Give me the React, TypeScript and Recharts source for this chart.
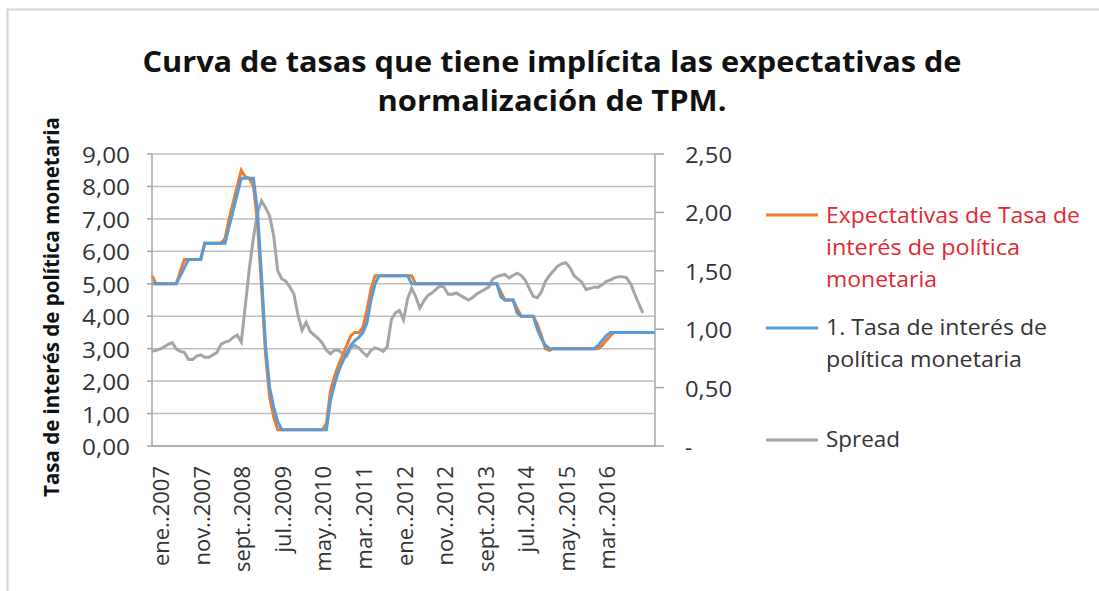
import React from "react";
import { LineChart, Line, XAxis, YAxis, CartesianGrid } from "recharts";

const MONTHS = ["ene", "feb", "mar", "abr", "may", "jun", "jul", "ago", "sept", "oct", "nov", "dic"];

// monthly categories, nov..2006 -> mar..2017
const categories: string[] = [];
for (let i = 0; i < 125; i++) {
  const m = (10 + i) % 12;
  const y = 2006 + Math.floor((10 + i) / 12);
  categories.push(`${MONTHS[m]}..${y}`);
}

const tickLabels = [
  "ene..2007", "nov..2007", "sept..2008", "jul..2009", "may..2010", "mar..2011",
  "ene..2012", "nov..2012", "sept..2013", "jul..2014", "may..2015", "mar..2016",
];

const expectativas = [
  5.25, 5.0, 5.0, 5.0, 5.0, 5.0, 5.0,
  5.4, 5.75, 5.75, 5.75, 5.75, 5.75,
  6.25, 6.25, 6.25, 6.25, 6.25, 6.4,
  7.0, 7.5, 8.0, 8.5, 8.3, 8.25, 8.0,
  6.9, 4.9, 2.8, 1.5, 0.9, 0.5,
  0.5, 0.5, 0.5, 0.5, 0.5, 0.5, 0.5, 0.5, 0.5, 0.5, 0.5, 0.7,
  1.7, 2.15, 2.5, 2.8, 3.1, 3.4, 3.5, 3.5, 3.65, 4.2, 4.85, 5.25,
  5.25, 5.25, 5.25, 5.25, 5.25, 5.25, 5.25, 5.25, 5.25,
  5.0, 5.0, 5.0, 5.0, 5.0, 5.0, 5.0, 5.0, 5.0, 5.0, 5.0, 5.0, 5.0, 5.0, 5.0, 5.0, 5.0, 5.0, 5.0, 5.0, 5.0,
  4.75, 4.5, 4.5, 4.5, 4.25, 4.0, 4.0, 4.0, 4.0, 3.75, 3.4, 3.0, 2.95,
  3.0, 3.0, 3.0, 3.0, 3.0, 3.0, 3.0, 3.0, 3.0, 3.0, 3.0, 3.0,
  3.1, 3.25, 3.4,
  3.5, 3.5, 3.5, 3.5, 3.5, 3.5, 3.5, 3.5, 3.5, 3.5, 3.5,
];

const tpm = [
  5.0, 5.0, 5.0, 5.0, 5.0, 5.0, 5.0,
  5.25, 5.5, 5.75, 5.75, 5.75, 5.75,
  6.25, 6.25, 6.25, 6.25, 6.25, 6.25,
  6.75, 7.25, 7.75, 8.25, 8.25, 8.25, 8.25,
  7.25, 5.25, 3.1, 1.8, 1.2, 0.75,
  0.5, 0.5, 0.5, 0.5, 0.5, 0.5, 0.5, 0.5, 0.5, 0.5, 0.5, 0.5,
  1.4, 1.9, 2.3, 2.6, 2.85, 3.1, 3.25, 3.35, 3.5, 3.8, 4.5, 5.0,
  5.25, 5.25, 5.25, 5.25, 5.25, 5.25, 5.25, 5.25,
  5.0, 5.0, 5.0, 5.0, 5.0, 5.0, 5.0, 5.0, 5.0, 5.0, 5.0, 5.0, 5.0, 5.0, 5.0, 5.0, 5.0, 5.0, 5.0, 5.0, 5.0, 5.0,
  4.6, 4.5, 4.5, 4.5, 4.1, 4.0, 4.0, 4.0, 4.0, 3.6, 3.3, 3.1,
  3.0, 3.0, 3.0, 3.0, 3.0, 3.0, 3.0, 3.0, 3.0, 3.0, 3.0, 3.0,
  3.1, 3.25, 3.4,
  3.5, 3.5, 3.5, 3.5, 3.5, 3.5, 3.5, 3.5, 3.5, 3.5, 3.5, 3.5,
];

const spread = [
  0.81, 0.82, 0.83, 0.85, 0.87, 0.885, 0.83, 0.81, 0.8, 0.74,
  0.74, 0.77, 0.78, 0.76, 0.76, 0.78, 0.8, 0.87, 0.89, 0.9,
  0.93, 0.95, 0.89, 1.2, 1.52, 1.78, 2.0, 2.1, 2.04, 1.97,
  1.8, 1.5, 1.43, 1.41, 1.36, 1.3, 1.12, 0.99, 1.06, 0.98,
  0.95, 0.92, 0.88, 0.82, 0.79, 0.82, 0.82, 0.79, 0.77, 0.84,
  0.86, 0.84, 0.8, 0.77, 0.82, 0.84, 0.83, 0.81, 0.85, 1.08,
  1.14, 1.16, 1.08, 1.26, 1.35, 1.28, 1.18, 1.24, 1.29, 1.31,
  1.34, 1.37, 1.36, 1.3, 1.3, 1.31, 1.29, 1.27, 1.25, 1.27,
  1.3, 1.32, 1.34, 1.36, 1.43, 1.45, 1.46, 1.47, 1.44, 1.46,
  1.48, 1.46, 1.42, 1.35, 1.28, 1.27, 1.32, 1.41, 1.46, 1.5,
  1.54, 1.56, 1.57, 1.53, 1.46, 1.43, 1.4, 1.34, 1.35, 1.36,
  1.36, 1.38, 1.41, 1.42, 1.44, 1.45, 1.45, 1.44, 1.39, 1.3,
  1.22, 1.14, null, null, null,
];

const leftTicks = [0, 1, 2, 3, 4, 5, 6, 7, 8, 9];
const rightTicks = [0, 0.5, 1, 1.5, 2, 2.5];

const data = categories.map((m, i) => ({
  m,
  exp: expectativas[i],
  tpm: tpm[i],
  spread: spread[i],
}));

const FONT = "'Open Sans', sans-serif";
const TEXT = "#333333";

const fmt = (v: number) => v.toFixed(2).replace(".", ",");

function LeftTick({ x, y, payload }: any) {
  return (
    <text x={x} y={y} textAnchor="end" dominantBaseline="central" fontFamily={FONT}
      fontSize={22} fill={TEXT} textLength={48} lengthAdjust="spacingAndGlyphs">
      {fmt(payload.value)}
    </text>
  );
}

function RightTick({ x, y, payload }: any) {
  const label = payload.value === 0 ? "-" : fmt(payload.value);
  return (
    <text x={x} y={y} textAnchor="start" dominantBaseline="central" fontFamily={FONT}
      fontSize={22} fill={TEXT} {...(label.length > 1 ? { textLength: 47, lengthAdjust: "spacingAndGlyphs" } : {})}>
      {label}
    </text>
  );
}

function BottomTick({ x, y, payload }: any) {
  return (
    <text x={x} y={y} transform={`rotate(-90, ${x}, ${y})`} textAnchor="end"
      dominantBaseline="central" fontFamily={FONT} fontSize={22} fill={TEXT}>
      {payload.value}
    </text>
  );
}

const legendRows = [
  { color: "#ed7d31", y: 215, textColor: "#e5262f", lines: [
    { t: "Expectativas de Tasa de", w: 254, b: 223 },
    { t: "interés de política", w: 194, b: 255 },
    { t: "monetaria", w: 111, b: 287 },
  ] },
  { color: "#5b9bd5", y: 328, textColor: TEXT, lines: [
    { t: "1. Tasa de interés de", w: 221, b: 335 },
    { t: "política monetaria", w: 196, b: 367 },
  ] },
  { color: "#a5a5a5", y: 440, textColor: TEXT, lines: [
    { t: "Spread", w: 74, b: 447 },
  ] },
];

export default function App() {
  return (
    <div style={{ position: "relative", width: 1099, height: 591, background: "#fff", overflow: "hidden" }}>
      <style>{`body{margin:0}`}</style>
      <LineChart width={1099} height={591} data={data}
        margin={{ top: 154, right: 374, bottom: 25, left: 92 }}>
        <CartesianGrid yAxisId="left" vertical={false} stroke="#bfbfbf" strokeWidth={1.5} />
        <XAxis dataKey="m" ticks={tickLabels} interval={0} height={120} tickLine={false}
          tickSize={0} tickMargin={20} tick={<BottomTick />} stroke="#a6a6a6" strokeWidth={1.5} />
        <YAxis yAxisId="left" domain={[0, 9]} ticks={leftTicks} width={60} tickSize={5}
          tickMargin={17} tick={<LeftTick />} stroke="#a6a6a6" strokeWidth={1.5} />
        <YAxis yAxisId="right" orientation="right" domain={[0, 2.5]} ticks={rightTicks}
          width={70} tickSize={9} tickMargin={21} tick={<RightTick />} stroke="#a6a6a6" strokeWidth={1.5} />
        <Line yAxisId="right" dataKey="spread" stroke="#a5a5a5" strokeWidth={3} dot={false}
          isAnimationActive={false} />
        <Line yAxisId="left" dataKey="exp" stroke="#ed7d31" strokeWidth={3} dot={false}
          isAnimationActive={false} />
        <Line yAxisId="left" dataKey="tpm" stroke="#5b9bd5" strokeWidth={3} dot={false}
          isAnimationActive={false} />
      </LineChart>
      <svg width={1099} height={591} style={{ position: "absolute", left: 0, top: 0, pointerEvents: "none" }}>
        <path d="M7.5 591 V9.5 H1099" fill="none" stroke="#d4d4d4" strokeWidth={2} />
        <text x={552} y={72} textAnchor="middle" fontFamily={FONT} fontWeight={700} fontSize={29}
          fill="#111" textLength={819} lengthAdjust="spacingAndGlyphs">
          Curva de tasas que tiene implícita las expectativas de
        </text>
        <text x={552} y={111} textAnchor="middle" fontFamily={FONT} fontWeight={700} fontSize={29}
          fill="#111" textLength={349} lengthAdjust="spacingAndGlyphs">
          normalización de TPM.
        </text>
        <text x={51} y={307} transform="rotate(-90, 51, 307)" textAnchor="middle"
          dominantBaseline="central" fontFamily={FONT} fontWeight={700} fontSize={21} fill="#111"
          textLength={380} lengthAdjust="spacingAndGlyphs">
          Tasa de interés de política monetaria
        </text>
        {legendRows.map((r) => (
          <g key={r.color}>
            <line x1={766} x2={818} y1={r.y} y2={r.y} stroke={r.color} strokeWidth={3} />
            {r.lines.map((l) => (
              <text key={l.t} x={826} y={l.b} fontFamily={FONT} fontSize={21} fill={r.textColor}
                textLength={l.w} lengthAdjust="spacingAndGlyphs">
                {l.t}
              </text>
            ))}
          </g>
        ))}
      </svg>
    </div>
  );
}
